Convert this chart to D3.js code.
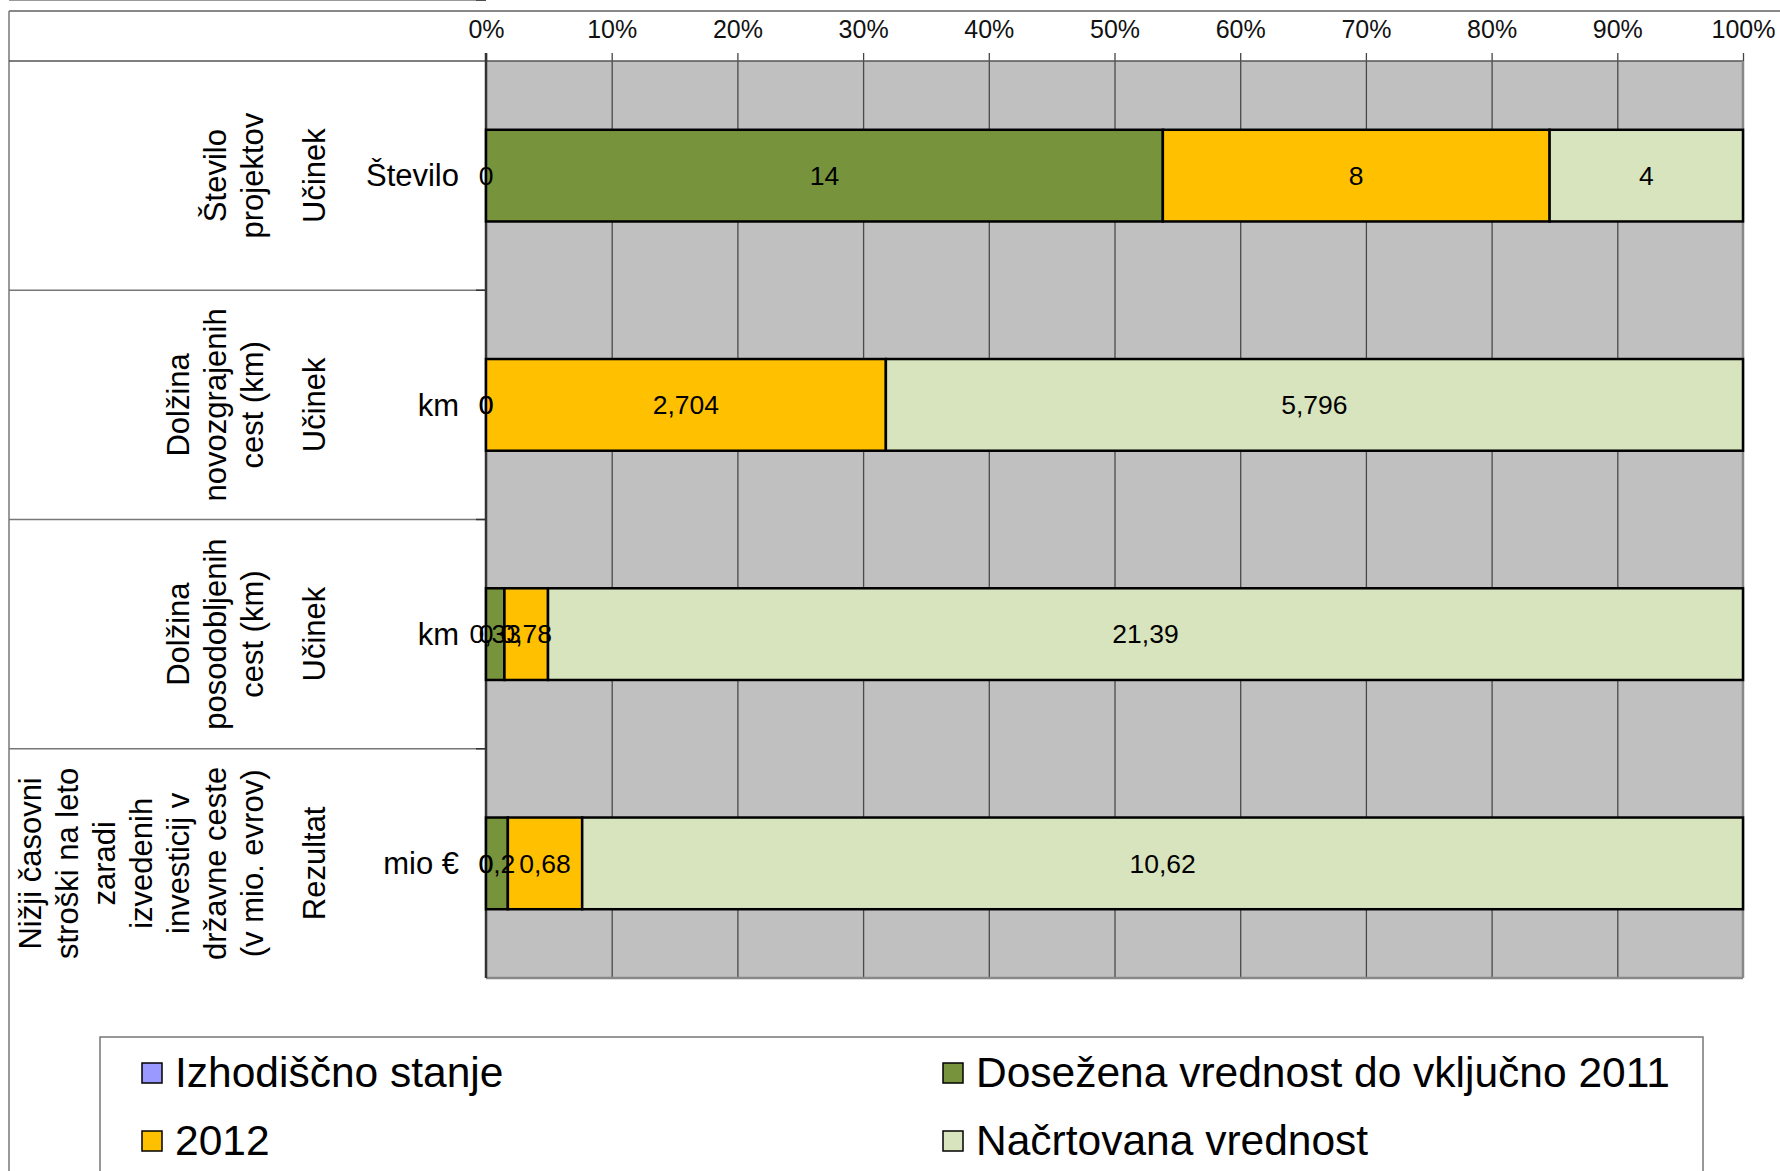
<!DOCTYPE html>
<html><head><meta charset="utf-8">
<script src="https://cdn.jsdelivr.net/npm/d3@7"></script>
<style>body{margin:0;background:#fff;} svg{display:block;font-family:"Liberation Sans",Arial,Helvetica,sans-serif;}</style>
</head><body><svg id="c" width="1780" height="1171"></svg>
<script>
// ---- data ----
const catLines = [
  ["Število", "projektov"],
  ["Dolžina", "novozgrajenih", "cest (km)"],
  ["Dolžina", "posodobljenih", "cest (km)"],
  ["Nižji časovni", "stroški na leto", "zaradi", "izvedenih", "investicij v", "državne ceste", "(v mio. evrov)"]
];
const types = ["Učinek", "Učinek", "Učinek", "Rezultat"];
const units = ["Število", "km", "km", "mio €"];
const seriesNames = ["Izhodiščno stanje", "Dosežena vrednost do vključno 2011", "2012", "Načrtovana vrednost"];
const seriesColors = ["#9999FF", "#77933C", "#FFC000", "#D7E4BD"];
const izhodiscno = [0, 0, 0, 0];
const dosezena = [14, 0, 0.33, 0.2];
const leto2012 = [8, 2.704, 0.78, 0.68];
const nacrtovana = [4, 5.796, 21.39, 10.62];
const tickValues = [0, 0.1, 0.2, 0.3, 0.4, 0.5, 0.6, 0.7, 0.8, 0.9, 1];
const tickLabels = ["0%", "10%", "20%", "30%", "40%", "50%", "60%", "70%", "80%", "90%", "100%"];

// ---- layout ----
const svg = d3.select("#c");
const L = 486, R = 1743, T = 61, B = 978;
const x = d3.scaleLinear().domain([0, 1]).range([L, R]);
const y = d3.scaleBand().domain(d3.range(catLines.length)).range([T, B]).paddingInner(0.6).paddingOuter(0.3);
const bw = y.bandwidth(), step = y.step();
const rowTop = i => y(i) + bw / 2 - step / 2;
const rowMid = i => y(i) + bw / 2;

const rows = catLines.map((c, i) => ({
  i,
  [seriesNames[0]]: izhodiscno[i],
  [seriesNames[1]]: dosezena[i],
  [seriesNames[2]]: leto2012[i],
  [seriesNames[3]]: nacrtovana[i]
}));
const stacked = d3.stack().keys(seriesNames).offset(d3.stackOffsetExpand)(rows);
const fmt = v => String(v).replace(".", ",");

// outer frame / table
svg.append("line").attr("x1", 9).attr("x2", 1780).attr("y1", 11).attr("y2", 11).attr("stroke", "#888").attr("stroke-width", 2);
svg.append("line").attr("x1", 9).attr("x2", 9).attr("y1", 11).attr("y2", 1171).attr("stroke", "#777").attr("stroke-width", 1.5);
svg.append("line").attr("x1", 9).attr("x2", L).attr("y1", T).attr("y2", T).attr("stroke", "#555").attr("stroke-width", 1.5);
d3.range(1, catLines.length + 1).forEach(i => {
  const yy = rowTop(i);
  svg.append("line").attr("x1", 9).attr("x2", L).attr("y1", yy).attr("y2", yy).attr("stroke", "#777").attr("stroke-width", 1.5);
  svg.append("line").attr("x1", L - 10).attr("x2", L).attr("y1", yy).attr("y2", yy).attr("stroke", "#333").attr("stroke-width", 1.5);
});

// plot background
svg.append("rect").attr("x", L).attr("y", T).attr("width", R - L).attr("height", B - T).attr("fill", "#C0C0C0");

// gridlines
const grid = svg.append("g").attr("transform", `translate(0,${T})`)
  .call(d3.axisTop(x).tickValues(tickValues.slice(1, -1)).tickSize(-(B - T)).tickFormat(""));
grid.select(".domain").remove();
grid.selectAll("line").attr("stroke", "#4a4a4a").attr("stroke-width", 1.3);

// top axis
const ax = svg.append("g").attr("transform", `translate(0,${T})`)
  .call(d3.axisTop(x).tickValues(tickValues).tickSize(8).tickPadding(15).tickFormat((d, i) => tickLabels[i]));
ax.select(".domain").remove();
ax.selectAll("line").attr("stroke", "#444").attr("stroke-width", 1.3);
ax.selectAll("text").attr("font-size", 25).attr("fill", "#111").attr("font-family", "'Liberation Sans', Arial, sans-serif");

// plot borders
svg.append("line").attr("x1", L).attr("x2", R).attr("y1", T).attr("y2", T).attr("stroke", "#555").attr("stroke-width", 1.5);
svg.append("line").attr("x1", R).attr("x2", R).attr("y1", T).attr("y2", B).attr("stroke", "#888").attr("stroke-width", 2.5);
svg.append("line").attr("x1", L).attr("x2", R).attr("y1", B).attr("y2", B).attr("stroke", "#888").attr("stroke-width", 2.5);
svg.append("line").attr("x1", L).attr("x2", L).attr("y1", T - 8).attr("y2", B).attr("stroke", "#333").attr("stroke-width", 2.5);

// bars
const layers = svg.append("g").selectAll("g").data(stacked).join("g").attr("fill", (d, k) => seriesColors[k]);
layers.selectAll("rect").data(d => d).join("rect")
  .attr("x", d => x(d[0]))
  .attr("width", d => x(d[1]) - x(d[0]))
  .attr("y", d => y(d.data.i))
  .attr("height", bw)
  .attr("stroke", "#000").attr("stroke-width", 2.5);

// data labels
const lab = svg.append("g").attr("font-size", 26.5).attr("text-anchor", "middle").attr("fill", "#000");
stacked.forEach(layer => {
  layer.forEach(d => {
    const v = d.data[layer.key];
    lab.append("text").attr("x", x((d[0] + d[1]) / 2)).attr("y", rowMid(d.data.i)).attr("dy", "0.35em").text(fmt(v));
  });
});

// left labels
const lineGap = 37, lastX = 252;
catLines.forEach((lines, i) => {
  const cy = rowMid(i);
  lines.forEach((t, j) => {
    const cx = lastX - (lines.length - 1 - j) * lineGap;
    svg.append("text").attr("transform", `translate(${cx},${cy}) rotate(-90)`)
      .attr("text-anchor", "middle").attr("dy", "0.35em").attr("font-size", 31).text(t);
  });
  svg.append("text").attr("transform", `translate(314,${cy}) rotate(-90)`)
    .attr("text-anchor", "middle").attr("dy", "0.35em").attr("font-size", 31).text(types[i]);
  svg.append("text").attr("x", 459).attr("y", cy).attr("dy", "0.35em")
    .attr("text-anchor", "end").attr("font-size", 31).text(units[i]);
});

// legend
svg.append("rect").attr("x", 100).attr("y", 1037).attr("width", 1603).attr("height", 200)
  .attr("fill", "#fff").attr("stroke", "#777").attr("stroke-width", 1.5);
const legPos = [[142, 1063], [943, 1063], [142, 1131], [943, 1131]];
seriesNames.forEach((s, k) => {
  const [lx, ly] = legPos[k];
  svg.append("rect").attr("x", lx).attr("y", ly).attr("width", 20).attr("height", 20)
    .attr("fill", seriesColors[k]).attr("stroke", "#000").attr("stroke-width", 1.5);
  svg.append("text").attr("x", lx + 33).attr("y", ly + 24).attr("font-size", 42.5).text(s);
});
</script></body></html>
